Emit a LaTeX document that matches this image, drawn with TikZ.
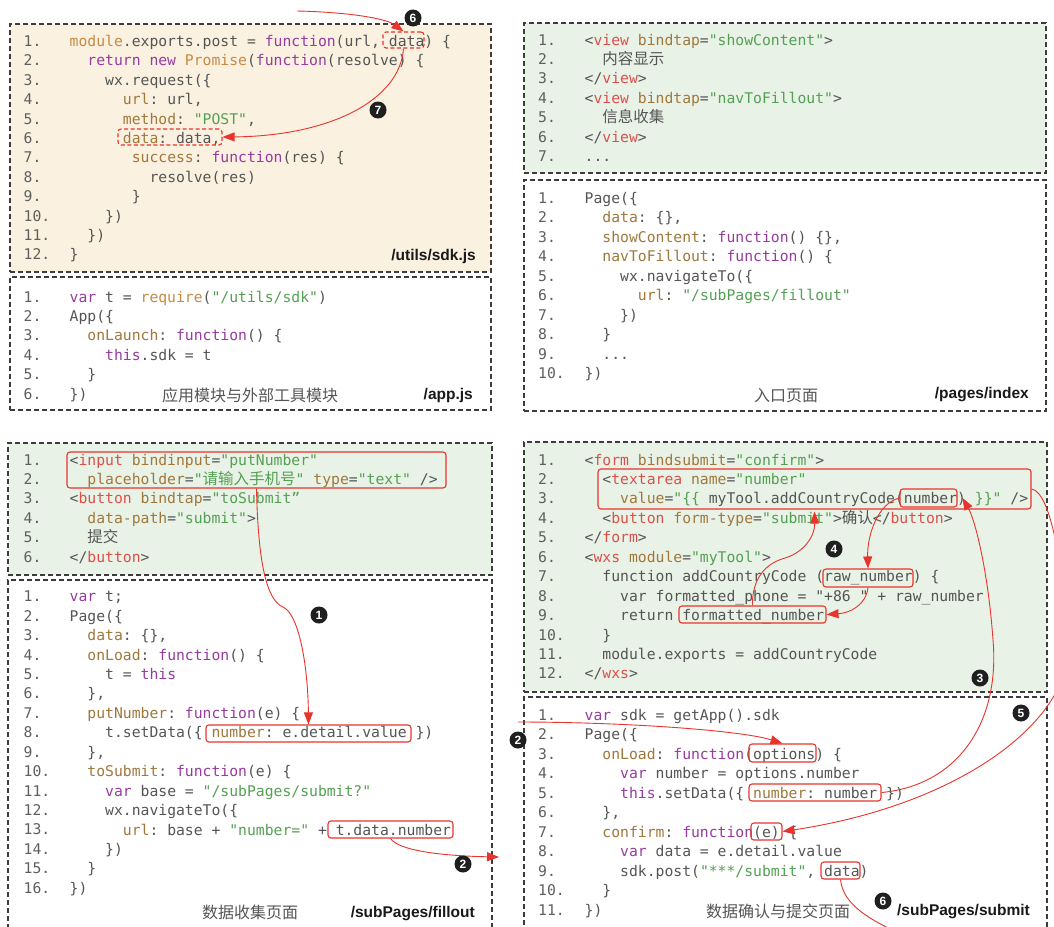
\documentclass[tikz,border=0pt]{standalone}
\usepackage{fontspec}
\setmonofont{DejaVu Sans Mono}
\setsansfont{Liberation Sans}
\newfontfamily\cjk{Noto Sans CJK SC}
\usetikzlibrary{arrows.meta,fit}
\definecolor{ckw}{RGB}{150,60,160}
\definecolor{cpr}{RGB}{160,120,60}
\definecolor{cog}{RGB}{198,138,68}
\definecolor{cst}{RGB}{84,160,84}
\definecolor{ctg}{RGB}{220,80,75}
\definecolor{ctx}{RGB}{85,85,85}
\definecolor{cnum}{RGB}{95,95,95}
\definecolor{cred}{RGB}{232,52,44}
\definecolor{cbox}{RGB}{60,60,60}
\definecolor{cbeige}{RGB}{251,241,224}
\definecolor{cgreen}{RGB}{233,242,230}
\newcommand\xkw[1]{\textcolor{ckw}{#1}}
\newcommand\xpr[1]{\textcolor{cpr}{#1}}
\newcommand\xog[1]{\textcolor{cog}{#1}}
\newcommand\xst[1]{\textcolor{cst}{#1}}
\newcommand\xtg[1]{\textcolor{ctg}{#1}}
\newcommand\xcn[1]{{\cjk\fontsize{15.5}{17}\selectfont #1}}
\newcommand\codefont{\ttfamily\fontsize{14.73}{17}\selectfont}
\tikzset{
  panel/.style={draw=cbox, line width=1.1pt, dash pattern=on 5pt off 3pt, inner sep=0pt},
  code/.style={anchor=base west, inner sep=0pt, font=\codefont, text=ctx},
  lnum/.style={anchor=base west, inner sep=0pt, font=\codefont, text=cnum},
  capcn/.style={anchor=base, inner sep=0pt, font=\cjk\fontsize{16}{18}\selectfont, text=ctx},
  path/.style={anchor=base east, inner sep=0pt, font=\sffamily\bfseries\fontsize{15.5}{18}\selectfont, text=black!90},
  hl/.style={draw=cred, line width=1.1pt, rounded corners=3pt, inner sep=0pt},
  hld/.style={hl, dash pattern=on 4pt off 2.5pt},
  conn/.style={draw=cred, line width=0.9pt},
  tip/.style={-{Triangle[length=12pt,width=9pt]}},
  badge/.style={circle, fill=black!88, text=white, inner sep=0pt, minimum size=17pt,
    font=\sffamily\bfseries\fontsize{12}{12}\selectfont}
}
\begin{document}
\begin{tikzpicture}[x=1pt,y=-1pt]
\useasboundingbox (0,0) rectangle (1054,926);
\fill[white] (0,0) rectangle (1054,926);
% panels
\node[panel, fill=cbeige, fit={(10,24) (491,272)}] (pSdk) {};
\node[panel, fit={(10,277) (491,410)}] (pApp) {};
\node[panel, fill=cgreen, fit={(524,23) (1046,173)}] (pIw) {};
\node[panel, fit={(524,180) (1046,411)}] (pIj) {};
\node[panel, fill=cgreen, fit={(8,443) (492,575)}] (pFw) {};
\node[panel, fit={(8,580) (492,940)}] (pFj) {};
\node[panel, fill=cgreen, fit={(524,442) (1047,692)}] (pSw) {};
\node[panel, fit={(524,697) (1047,940)}] (pSj) {};
% line numbers
\foreach \i in {1,...,12} {\node[lnum] (sdkn\i) at (23.5,{46.5+(\i-1)*19.4}) {\i.};}
\foreach \i in {1,...,6} {\node[lnum] (appn\i) at (23.5,{302+(\i-1)*19.4}) {\i.};}
\foreach \i in {1,...,7} {\node[lnum] (iwn\i) at (538,{45+(\i-1)*19.45}) {\i.};}
\foreach \i in {1,...,10} {\node[lnum] (ijn\i) at (538,{203.3+(\i-1)*19.5}) {\i.};}
\foreach \i in {1,...,6} {\node[lnum] (fwn\i) at (23.5,{465+(\i-1)*19.4}) {\i.};}
\foreach \i in {1,...,16} {\node[lnum] (fjn\i) at (23.5,{601.7+(\i-1)*19.44}) {\i.};}
\foreach \i in {1,...,12} {\node[lnum] (swn\i) at (538,{465+(\i-1)*19.45}) {\i.};}
\foreach \i in {1,...,11} {\node[lnum] (sjn\i) at (538,{720+(\i-1)*19.5}) {\i.};}
% sdk.js
\node[code] (sdk1) at (69.5,46.5) {\xog{module}.exports.post = \xkw{function}(url, data) \{};
\node[code] (sdk2) at (87.24,65.9) {\xkw{return new} \xog{Promise}(\xkw{function}(resolve) \{};
\node[code] (sdk3) at (104.98,85.3) {wx.request(\{};
\node[code] (sdk4) at (122.72,104.7) {\xpr{url}: url,};
\node[code] (sdk5) at (122.72,124.1) {\xpr{method}: \xst{"POST"},};
\node[code] (sdk6) at (122.72,143.5) {\xpr{data}: data,};
\node[code] (sdk7) at (131.59,162.9) {\xpr{success}: \xkw{function}(res) \{};
\node[code] (sdk8) at (149.33,182.3) {resolve(res)};
\node[code] (sdk9) at (131.59,201.7) {\}};
\node[code] (sdk10) at (104.98,221.1) {\})};
\node[code] (sdk11) at (87.24,240.5) {\})};
\node[code] (sdk12) at (69.5,259.9) {\}};
\node[path] (lSdk) at (476,260) {/utils/sdk.js};
% app.js
\node[code] (app1) at (69.5,302) {\xkw{var} t = \xog{require}(\xst{"/utils/sdk"})};
\node[code] (app2) at (69.5,321.4) {App(\{};
\node[code] (app3) at (87.24,340.8) {\xpr{onLaunch}: \xkw{function}() \{};
\node[code] (app4) at (104.98,360.2) {\xkw{this}.sdk = t};
\node[code] (app5) at (87.24,379.6) {\}};
\node[code] (app6) at (69.5,399) {\})};
\node[capcn] (cApp) at (250,401) {应用模块与外部工具模块};
\node[path] (lApp) at (473,399) {/app.js};
% index wxml
\node[code] (iw1) at (584.5,45) {<\xtg{view} \xpr{bindtap}=\xst{"showContent"}>};
\node[code] (iw2) at (602.24,64.45) {\xcn{内容显示}};
\node[code] (iw3) at (584.5,83.9) {</\xtg{view}>};
\node[code] (iw4) at (584.5,103.35) {<\xtg{view} \xpr{bindtap}=\xst{"navToFillout"}>};
\node[code] (iw5) at (602.24,122.8) {\xcn{信息收集}};
\node[code] (iw6) at (584.5,142.25) {</\xtg{view}>};
\node[code] (iw7) at (584.5,161.7) {...};
% index js
\node[code] (ij1) at (584.5,203.3) {Page(\{};
\node[code] (ij2) at (602.24,222.8) {\xpr{data}: \{\},};
\node[code] (ij3) at (602.24,242.3) {\xpr{showContent}: \xkw{function}() \{\},};
\node[code] (ij4) at (602.24,261.8) {\xpr{navToFillout}: \xkw{function}() \{};
\node[code] (ij5) at (619.98,281.3) {wx.navigateTo(\{};
\node[code] (ij6) at (637.72,300.8) {\xpr{url}: \xst{"/subPages/fillout"}};
\node[code] (ij7) at (619.98,320.3) {\})};
\node[code] (ij8) at (602.24,339.8) {\}};
\node[code] (ij9) at (602.24,359.3) {...};
\node[code] (ij10) at (584.5,378.8) {\})};
\node[capcn] (cIdx) at (786,401) {入口页面};
\node[path] (lIdx) at (1029,398) {/pages/index};
% fillout wxml
\node[code] (fw1) at (69.5,465) {<\xtg{input} \xpr{bindinput}=\xst{"putNumber"}};
\node[code] (fw2) at (87.24,484.4) {\xpr{placeholder}=\xst{"\xcn{请输入手机号}"} \xpr{type}=\xst{"text"} />};
\node[code] (fw3) at (69.5,503.8) {<\xtg{button} \xpr{bindtap}=\xst{"toSubmit”}};
\node[code] (fw4) at (87.24,523.2) {\xpr{data-path}=\xst{"submit"}>};
\node[code] (fw5) at (87.24,542.6) {\xcn{提交}};
\node[code] (fw6) at (69.5,562) {</\xtg{button}>};
% fillout js
\node[code] (fj1) at (69.5,601.7) {\xkw{var} t;};
\node[code] (fj2) at (69.5,621.1) {Page(\{};
\node[code] (fj3) at (87.24,640.6) {\xpr{data}: \{\},};
\node[code] (fj4) at (87.24,660.0) {\xpr{onLoad}: \xkw{function}() \{};
\node[code] (fj5) at (104.98,679.5) {t = \xkw{this}};
\node[code] (fj6) at (87.24,698.9) {\},};
\node[code] (fj7) at (87.24,718.3) {\xpr{putNumber}: \xkw{function}(e) \{};
\node[code] (fj8) at (104.98,737.8) {t.setData(\{ \xpr{number}: e.detail.value \})};
\node[code] (fj9) at (87.24,757.2) {\},};
\node[code] (fj10) at (87.24,776.7) {\xpr{toSubmit}: \xkw{function}(e) \{};
\node[code] (fj11) at (104.98,796.1) {\xkw{var} base = \xst{"/subPages/submit?"}};
\node[code] (fj12) at (104.98,815.5) {wx.navigateTo(\{};
\node[code] (fj13) at (122.72,835.0) {\xpr{url}: base + \xst{"number="} + t.data.number};
\node[code] (fj14) at (104.98,854.4) {\})};
\node[code] (fj15) at (87.24,873.9) {\}};
\node[code] (fj16) at (69.5,893.3) {\})};
\node[capcn] (cFill) at (250,918) {数据收集页面};
\node[path] (lFill) at (475,917) {/subPages/fillout};
% submit wxml
\node[code] (sw1) at (584.5,465) {<\xtg{form} \xpr{bindsubmit}=\xst{"confirm"}>};
\node[code] (sw2) at (602.24,484.45) {<\xtg{textarea} \xpr{name}=\xst{"number"}};
\node[code] (sw3) at (619.98,503.9) {\xpr{value}=\xst{"\{\{} myTool.addCountryCode(number) \xst{\}\}"} />};
\node[code] (sw4) at (602.24,523.35) {<\xtg{button} \xpr{form-type}=\xst{"submit"}>\xcn{确认}</\xtg{button}>};
\node[code] (sw5) at (584.5,542.8) {</\xtg{form}>};
\node[code] (sw6) at (584.5,562.25) {<\xtg{wxs} \xpr{module}=\xst{"myTool"}>};
\node[code] (sw7) at (602.24,581.7) {function addCountryCode (raw\_number) \{};
\node[code] (sw8) at (619.98,601.15) {var formatted\_phone = "+86 " + raw\_number};
\node[code] (sw9) at (619.98,620.6) {return formatted\_number};
\node[code] (sw10) at (602.24,640.05) {\}};
\node[code] (sw11) at (602.24,659.5) {module.exports = addCountryCode};
\node[code] (sw12) at (584.5,678.95) {</\xtg{wxs}>};
% submit js
\node[code] (sj1) at (584.5,720) {\xkw{var} sdk = getApp().sdk};
\node[code] (sj2) at (584.5,739.5) {Page(\{};
\node[code] (sj3) at (602.24,759) {\xpr{onLoad}: \xkw{function}(options) \{};
\node[code] (sj4) at (619.98,778.5) {\xkw{var} number = options.number};
\node[code] (sj5) at (619.98,798) {\xkw{this}.setData(\{ \xpr{number}: number \})};
\node[code] (sj6) at (602.24,817.5) {\},};
\node[code] (sj7) at (602.24,837) {\xpr{confirm}: \xkw{function}(e) \{};
\node[code] (sj8) at (619.98,856.5) {\xkw{var} data = e.detail.value};
\node[code] (sj9) at (619.98,876) {sdk.post(\xst{"***/submit"}, data)};
\node[code] (sj10) at (602.24,895.5) {\}};
\node[code] (sj11) at (584.5,915) {\})};
\node[capcn] (cSub) at (778,917) {数据确认与提交页面};
\node[path] (lSub) at (1030,915) {/subPages/submit};
% highlight boxes
\node[hld, fit={(383,32) (424,48)}] (sdkD) {};
\node[hld, fit={(118,129) (222,145)}] (sdkDD) {};
\node[hl, fit={(67,452) (446,488)}] (fwH) {};
\node[hl, fit={(206,725) (411,742)}] (fjN) {};
\node[hl, fit={(328,821) (453,838)}] (fjT) {};
\node[hl, fit={(598,469) (1031,509)}] (swTA) {};
\node[hl, fit={(900,489) (957,507)}] (swNum) {};
\node[hl, fit={(823,569) (913,587)}] (swRaw) {};
\node[hl, fit={(679,606) (826,623)}] (swFmt) {};
\node[hl, fit={(749,744) (816,762)}] (sjOpt) {};
\node[hl, fit={(749,784) (881,801)}] (sjNN) {};
\node[hl, fit={(751,823) (782,840)}] (sjE) {};
\node[hl, fit={(821,862) (860,879)}] (sjD) {};
% free ends
\coordinate (c6top) at (297,11);
\coordinate (c2end) at (499,857);
\coordinate (c2start) at (518,722);
\coordinate (c6bot) at (905,936);
% connectors
\draw[conn, tip] (c6top) .. controls (345,12) and (385,18) .. (sdkD.north);
\draw[conn, tip] (sdkD.south) .. controls (400,100) and (330,136) .. (sdkDD.east);
\draw[conn, tip] (fwH.south) .. controls (258,560) and (266,600) .. (283,607) .. controls (300,615) and (308,670) .. (fjN.north);
\draw[conn, tip] (fjT.south) .. controls (400,852) and (450,856) .. (c2end);
\draw[conn, tip] (c2start) .. controls (620,722) and (740,730) .. (sjOpt.north);
\draw[conn, tip] (sjNN.east) .. controls (960,785) and (1000,720) .. (993,640) .. controls (988,570) and (975,520) .. ([xshift=5pt]swNum.east);
\draw[conn, tip] (swNum.west) .. controls (878,503) and (867,535) .. (swRaw.north);
\draw[conn, tip] (swRaw.south) .. controls (866,605) and (850,613) .. (swFmt.east);
\draw[conn, tip] (swFmt.north) .. controls (752,585) and (760,565) .. (785,558) .. controls (805,552) and (815,535) .. ([yshift=-2pt]swTA.south);
\draw[conn, tip] (swTA.east) .. controls (1050,492) and (1062,560) .. (1068,640) .. controls (1075,720) and (960,805) .. (sjE.east);
\draw[conn] (sjD.south) .. controls (843,905) and (870,920) .. (c6bot);
% badges
\node[badge] (b1) at (319,615) {1};
\node[badge] (b2a) at (463,864) {2};
\node[badge] (b2b) at (518,740) {2};
\node[badge] (b3) at (980,678) {3};
\node[badge] (b4) at (834,549) {4};
\node[badge] (b5) at (1021,713) {5};
\node[badge] (b6a) at (413,18) {6};
\node[badge] (b6b) at (883,901) {6};
\node[badge] (b7) at (378,110) {7};
\end{tikzpicture}
\end{document}
